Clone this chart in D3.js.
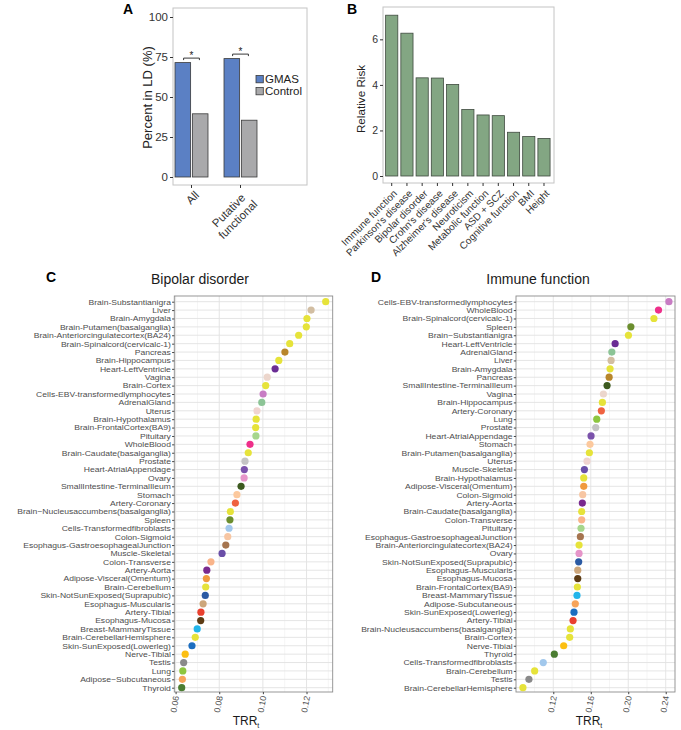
<!DOCTYPE html>
<html><head><meta charset="utf-8">
<script src="https://cdn.jsdelivr.net/npm/d3@7"></script>
<style>body{margin:0;background:#fff}svg{display:block;font-family:"Liberation Sans",Arial,sans-serif}</style>
</head><body><svg id="c" width="681" height="730"></svg>
<script>
// ---------- Panel A data ----------
const ldCategories = ["All", "Putative functional"];
const ldGroups = ["GMAS", "Control"];
const ldGMAS = [71.5, 74];
const ldControl = [39.5, 35.5];
const ldTicks = [0, 25, 50, 75, 100];

// ---------- Panel B data ----------
const traits = ["Immune function", "Parkinson's disease", "Bipolar disorder", "Crohn's disease", "Alzheimer's disease", "Neuroticism", "Metabolic function", "ASD + SCZ", "Cognitive function", "BMI", "Height"];
const relativeRisk = [7.06, 6.27, 4.31, 4.30, 4.02, 2.92, 2.68, 2.65, 1.92, 1.73, 1.65];
const rrTicks = [0, 2, 4, 6];

// ---------- Panel C data ----------
const bipolarTissues = ["Brain-Substantianigra", "Liver", "Brain-Amygdala", "Brain-Putamen(basalganglia)", "Brain-Anteriorcingulatecortex(BA24)", "Brain-Spinalcord(cervicalc-1)", "Pancreas", "Brain-Hippocampus", "Heart-LeftVentricle", "Vagina", "Brain-Cortex", "Cells-EBV-transformedlymphocytes", "AdrenalGland", "Uterus", "Brain-Hypothalamus", "Brain-FrontalCortex(BA9)", "Pituitary", "WholeBlood", "Brain-Caudate(basalganglia)", "Prostate", "Heart-AtrialAppendage", "Ovary", "SmallIntestine-TerminalIleum", "Stomach", "Artery-Coronary", "Brain\u2212Nucleusaccumbens(basalganglia)", "Spleen", "Cells-Transformedfibroblasts", "Colon-Sigmoid", "Esophagus-GastroesophagealJunction", "Muscle-Skeletal", "Colon-Transverse", "Artery-Aorta", "Adipose-Visceral(Omentum)", "Brain-Cerebellum", "Skin-NotSunExposed(Suprapubic)", "Esophagus-Muscularis", "Artery-Tibial", "Esophagus-Mucosa", "Breast-MammaryTissue", "Brain-CerebellarHemisphere", "Skin-SunExposed(Lowerleg)", "Nerve-Tibial", "Testis", "Lung", "Adipose\u2212Subcutaneous", "Thyroid"];
const bipolarTRR = [0.1288, 0.1221, 0.1202, 0.1199, 0.1164, 0.1123, 0.1101, 0.1073, 0.1056, 0.1020, 0.1013, 0.1001, 0.0995, 0.0973, 0.0969, 0.0967, 0.0968, 0.0941, 0.0933, 0.0918, 0.0915, 0.0914, 0.0900, 0.0881, 0.0874, 0.0851, 0.0849, 0.0845, 0.0839, 0.0830, 0.0813, 0.0762, 0.0743, 0.0741, 0.0738, 0.0736, 0.0726, 0.0716, 0.0715, 0.0699, 0.0690, 0.0675, 0.0644, 0.0637, 0.0633, 0.0631, 0.0628];
const bipolarTicks = [0.06, 0.08, 0.10, 0.12];
const bipolarMinor = [0.07, 0.09, 0.11, 0.13];

// ---------- Panel D data ----------
const immuneTissues = ["Cells-EBV-transformedlymphocytes", "WholeBlood", "Brain-Spinalcord(cervicalc-1)", "Spleen", "Brain\u2212Substantianigra", "Heart-LeftVentricle", "AdrenalGland", "Liver", "Brain-Amygdala", "Pancreas", "SmallIntestine-TerminalIleum", "Vagina", "Brain-Hippocampus", "Artery-Coronary", "Lung", "Prostate", "Heart-AtrialAppendage", "Stomach", "Brain-Putamen(basalganglia)", "Uterus", "Muscle-Skeletal", "Brain-Hypothalamus", "Adipose-Visceral(Omentum)", "Colon-Sigmoid", "Artery-Aorta", "Brain-Caudate(basalganglia)", "Colon-Transverse", "Pituitary", "Esophagus-GastroesophagealJunction", "Brain-Anteriorcingulatecortex(BA24)", "Ovary", "Skin-NotSunExposed(Suprapubic)", "Esophagus-Muscularis", "Esophagus-Mucosa", "Brain-FrontalCortex(BA9)", "Breast-MammaryTissue", "Adipose-Subcutaneous", "Skin-SunExposed(Lowerleg)", "Artery-Tibial", "Brain-Nucleusaccumbens(basalganglia)", "Brain-Cortex", "Nerve-Tibial", "Thyroid", "Cells-Transformedfibroblasts", "Brain-Cerebellum", "Testis", "Brain-CerebellarHemisphere"];
const immuneTRR = [0.2434, 0.2323, 0.2274, 0.2028, 0.2002, 0.1860, 0.1825, 0.1817, 0.1806, 0.1796, 0.1774, 0.1735, 0.1724, 0.1713, 0.1664, 0.1653, 0.1603, 0.1592, 0.1585, 0.1560, 0.1532, 0.1525, 0.1525, 0.1514, 0.1510, 0.1503, 0.1503, 0.1496, 0.1489, 0.1475, 0.1475, 0.1471, 0.1461, 0.1461, 0.1457, 0.1453, 0.1435, 0.1421, 0.1411, 0.1382, 0.1375, 0.1311, 0.1211, 0.1093, 0.1001, 0.0940, 0.0876];
const immuneTicks = [0.12, 0.16, 0.20, 0.24];
const immuneMinor = [0.10, 0.14, 0.18, 0.22];

// ---------- styles ----------
const tissueColor = {
  "Liver": "#d2bea2", "Pancreas": "#b8862b", "Heart-LeftVentricle": "#6b2d94", "Vagina": "#ecd6cc",
  "Cells-EBV-transformedlymphocytes": "#c87cc4", "AdrenalGland": "#8cc496", "Uterus": "#f0d4d0",
  "Pituitary": "#a6d68c", "WholeBlood": "#ee2f8a", "Prostate": "#c4c4c4", "Heart-AtrialAppendage": "#7b52ab",
  "Ovary": "#e695c9", "SmallIntestine-TerminalIleum": "#3d5a1f", "Stomach": "#fcc99e", "Artery-Coronary": "#ef6240",
  "Spleen": "#6b8e2e", "Cells-Transformedfibroblasts": "#a2c8ec", "Colon-Sigmoid": "#f7c6a3",
  "Esophagus-GastroesophagealJunction": "#a5744f", "Muscle-Skeletal": "#6a4fa8", "Colon-Transverse": "#f9b48a",
  "Artery-Aorta": "#7a2a8e", "Adipose-Visceral(Omentum)": "#f09a3e", "Skin-NotSunExposed(Suprapubic)": "#2b5aa3",
  "Esophagus-Muscularis": "#cda67a", "Artery-Tibial": "#e9402f", "Esophagus-Mucosa": "#5c3b14",
  "Breast-MammaryTissue": "#22b5ea", "Skin-SunExposed(Lowerleg)": "#1c6ec0", "Nerve-Tibial": "#fcbf12",
  "Testis": "#8a8a8a", "Lung": "#8dc63f", "Adipose-Subcutaneous": "#f6a45a", "Thyroid": "#4b7d32"
};
const brainColor = "#e6e33a";
function colorOf(t) {
  const k = t.replace(/\u2212/g, "-");
  if (k.startsWith("Brain-")) return brainColor;
  return tissueColor[k] || "#999";
}
const FONT = '"Liberation Sans", Arial, sans-serif';
const svg = d3.select("#c");

function panelLetter(txt, x, y) {
  svg.append("text").attr("x", x).attr("y", y).text(txt)
    .attr("font-size", 14).attr("font-weight", "bold").attr("fill", "#000");
}

// =============== Panel A ===============
(function () {
  const box = { x0: 173, x1: 307, y0: 8, y1: 185 };
  const y = d3.scaleLinear().domain([0, 100]).range([177, 17]);
  const x = d3.scaleBand().domain(ldCategories).range([167, 265]);
  const xs = d3.scaleBand().domain(ldGroups).range([8, 41]).paddingInner(0.1);
  const fill = { GMAS: "#5b80c4", Control: "#a9a9ab" };
  const g = svg.append("g");
  g.append("rect").attr("x", box.x0).attr("y", box.y0).attr("width", box.x1 - box.x0).attr("height", box.y1 - box.y0)
    .attr("fill", "none").attr("stroke", "#c4c4c4").attr("stroke-width", 1);
  const rows = ldCategories.map((c, i) => ({ c, GMAS: ldGMAS[i], Control: ldControl[i] }));
  rows.forEach(r => {
    ldGroups.forEach(k => {
      g.append("rect").attr("x", x(r.c) + xs(k)).attr("width", xs.bandwidth())
        .attr("y", y(r[k])).attr("height", y(0) - y(r[k]))
        .attr("fill", fill[k]).attr("stroke", "#3a3a3a").attr("stroke-width", 0.8);
    });
    const xa = x(r.c) + xs("GMAS") + xs.bandwidth() * 0.55;
    const xb = x(r.c) + xs("Control") + xs.bandwidth() * 0.45;
    const yb = y(Math.max(r.GMAS, r.Control)) - 4.5;
    g.append("path").attr("d", `M${xa},${yb + 2}V${yb}H${xb}V${yb + 2}`)
      .attr("fill", "none").attr("stroke", "#222").attr("stroke-width", 0.9);
    g.append("text").attr("x", (xa + xb) / 2).attr("y", yb + 1).attr("text-anchor", "middle")
      .attr("font-size", 10).attr("fill", "#222").text("*");
  });
  const ya = g.append("g").attr("transform", `translate(${box.x0},0)`)
    .call(d3.axisLeft(y).tickValues(ldTicks).tickSize(3).tickPadding(2));
  ya.select(".domain").remove();
  ya.selectAll("line").attr("stroke", "#333");
  ya.selectAll("text").attr("font-size", 11.5).attr("fill", "#333").attr("font-family", FONT);
  const xa = g.append("g").attr("transform", `translate(0,${box.y1})`)
    .call(d3.axisBottom(x).tickSize(3).tickFormat(""));
  xa.select(".domain").remove();
  xa.selectAll("line").attr("stroke", "#333");
  ldCategories.forEach(c => {
    const lines = c === "Putative functional" ? ["Putative", "functional"] : [c];
    const tg = g.append("g").attr("transform", `translate(${x(c) + x.bandwidth() / 2 + 2.5},${190})rotate(-45)`);
    const ts = lines.map((l, k) => tg.append("text").text(l).attr("font-size", 11.5).attr("fill", "#333")
      .attr("y", k * 13).attr("dy", "0.72em"));
    const W = d3.max(ts, t => t.node().getComputedTextLength());
    ts.forEach(t => t.attr("text-anchor", "middle").attr("x", -W / 2));
  });
  g.append("text").attr("transform", `translate(152,97.5)rotate(-90)`).attr("text-anchor", "middle")
    .attr("font-size", 13).attr("fill", "#222").text("Percent  in LD (%)");
  ldGroups.forEach((k, i) => {
    g.append("rect").attr("x", 256).attr("y", 75.5 + i * 12).attr("width", 7.3).attr("height", 7.3)
      .attr("fill", fill[k]).attr("stroke", "#3a3a3a").attr("stroke-width", 0.8);
    g.append("text").attr("x", 265).attr("y", 82.8 + i * 12).attr("font-size", 11.5).attr("fill", "#222").text(k);
  });
  panelLetter("A", 123, 14);
})();

// =============== Panel B ===============
(function () {
  const box = { x0: 383, x1: 554, y0: 7, y1: 183 };
  const y = d3.scaleLinear().domain([0, 7.42]).range([176, 7]);
  const x = d3.scaleBand().domain(traits).range([384.1, 551.6]).paddingInner(0.2).paddingOuter(0.1);
  const g = svg.append("g");
  g.append("rect").attr("x", box.x0).attr("y", box.y0).attr("width", box.x1 - box.x0).attr("height", box.y1 - box.y0)
    .attr("fill", "none").attr("stroke", "#c4c4c4").attr("stroke-width", 1);
  g.selectAll(".bar").data(traits).join("rect")
    .attr("x", d => x(d)).attr("width", x.bandwidth())
    .attr("y", (d, i) => y(relativeRisk[i])).attr("height", (d, i) => y(0) - y(relativeRisk[i]))
    .attr("fill", "#83a683").attr("stroke", "#3f4a3f").attr("stroke-width", 0.8);
  const ya = g.append("g").attr("transform", `translate(${box.x0},0)`)
    .call(d3.axisLeft(y).tickValues(rrTicks).tickSize(3).tickPadding(2));
  ya.select(".domain").remove();
  ya.selectAll("line").attr("stroke", "#333");
  ya.selectAll("text").attr("font-size", 10.5).attr("fill", "#333").attr("font-family", FONT);
  const xa = g.append("g").attr("transform", `translate(0,${box.y1})`)
    .call(d3.axisBottom(x).tickSize(3).tickFormat(""));
  xa.select(".domain").remove();
  xa.selectAll("line").attr("stroke", "#333");
  traits.forEach(t => {
    g.append("text").attr("transform", `translate(${x(t) + x.bandwidth() / 2 + 1},${189})rotate(-45)`)
      .attr("text-anchor", "end").attr("dy", "0.72em").attr("font-size", 10).attr("fill", "#333").text(t);
  });
  g.append("text").attr("transform", `translate(365,99)rotate(-90)`).attr("text-anchor", "middle")
    .attr("font-size", 11.7).attr("fill", "#222").text("Relative Risk");
  panelLetter("B", 347, 14);
})();

// =============== Panels C & D ===============
function dotPanel(o) {
  const x = d3.scaleLinear().domain(o.domain).range([o.x0, o.x1]);
  const y = d3.scalePoint().domain(o.tissues).range([o.y0 + 5.7, o.y1 - 4.3]);
  const g = svg.append("g");
  g.append("rect").attr("x", o.x0).attr("y", o.y0).attr("width", o.x1 - o.x0).attr("height", o.y1 - o.y0).attr("fill", "#fff");
  g.selectAll(".mn").data(o.minor.filter(v => x(v) > o.x0 && x(v) < o.x1)).join("line")
    .attr("x1", d => x(d)).attr("x2", d => x(d)).attr("y1", o.y0).attr("y2", o.y1)
    .attr("stroke", "#efefef").attr("stroke-width", 0.6);
  g.selectAll(".mj").data(o.ticks).join("line")
    .attr("x1", d => x(d)).attr("x2", d => x(d)).attr("y1", o.y0).attr("y2", o.y1)
    .attr("stroke", "#e2e2e2").attr("stroke-width", 0.9);
  g.selectAll(".hz").data(o.tissues).join("line")
    .attr("x1", o.x0).attr("x2", o.x1).attr("y1", d => y(d)).attr("y2", d => y(d))
    .attr("stroke", "#e2e2e2").attr("stroke-width", 0.9);
  g.append("rect").attr("x", o.x0).attr("y", o.y0).attr("width", o.x1 - o.x0).attr("height", o.y1 - o.y0)
    .attr("fill", "none").attr("stroke", "#8c8c8c").attr("stroke-width", 0.9);
  g.selectAll(".dot").data(o.tissues).join("circle")
    .attr("cx", (d, i) => x(o.values[i])).attr("cy", d => y(d)).attr("r", 3.6)
    .attr("fill", d => colorOf(d));
  const ya = g.append("g").attr("transform", `translate(${o.x0},0)`)
    .call(d3.axisLeft(y).tickSize(2.2).tickPadding(1.2));
  ya.select(".domain").remove();
  ya.selectAll("line").attr("stroke", "#444");
  const sx = 1.16;
  ya.selectAll("text").attr("font-size", 7.4).attr("fill", "#4d4d4d").attr("font-family", FONT)
    .attr("x", -3.4 / sx).attr("transform", `scale(${sx},1)`);
  const xa = g.append("g").attr("transform", `translate(0,${o.y1})`)
    .call(d3.axisBottom(x).tickValues(o.ticks).tickSize(2.2).tickFormat(d3.format(".2f")));
  xa.select(".domain").remove();
  xa.selectAll("line").attr("stroke", "#444");
  xa.selectAll("text").attr("font-size", 8.6).attr("fill", "#4d4d4d").attr("font-family", FONT)
    .attr("text-anchor", "end").attr("dy", "0.35em").attr("y", 0)
    .attr("transform", "translate(0,4)rotate(-80)");
  g.append("text").attr("x", o.titleX).attr("y", 284).attr("text-anchor", "middle")
    .attr("font-size", 14).attr("fill", "#1a1a1a").text(o.title);
  const tt = g.append("text").attr("x", o.xTitleX).attr("y", 725).attr("text-anchor", "middle")
    .attr("font-size", 12).attr("fill", "#1a1a1a");
  tt.append("tspan").text("TRR");
  tt.append("tspan").attr("font-size", 7).attr("dy", 3).text("t");
  panelLetter(o.letter, o.letterX, 282);
}

dotPanel({ tissues: bipolarTissues, values: bipolarTRR, ticks: bipolarTicks, minor: bipolarMinor,
  domain: [0.0594, 0.1320], x0: 174.3, x1: 332.7, y0: 296, y1: 692,
  title: "Bipolar disorder", titleX: 200, letter: "C", letterX: 46, xTitleX: 246 });
dotPanel({ tissues: immuneTissues, values: immuneTRR, ticks: immuneTicks, minor: immuneMinor,
  domain: [0.0802, 0.2499], x0: 516, x1: 675, y0: 296, y1: 692,
  title: "Immune function", titleX: 538, letter: "D", letterX: 371, xTitleX: 589 });
</script></body></html>
